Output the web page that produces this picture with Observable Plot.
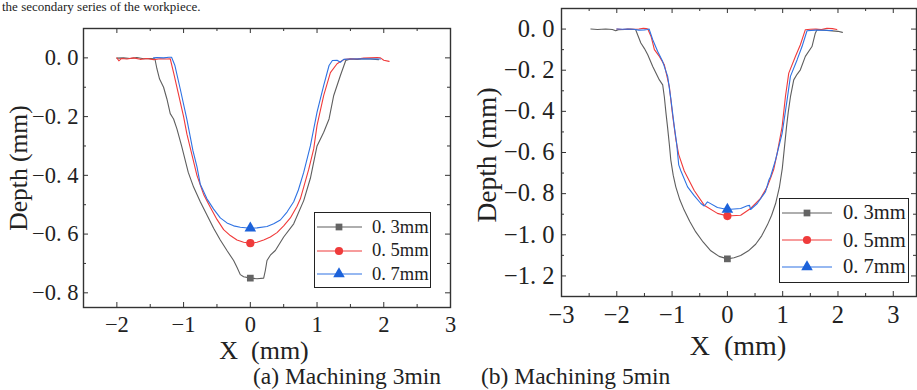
<!DOCTYPE html>
<html><head><meta charset="utf-8">
<script src="https://cdn.jsdelivr.net/npm/d3@7"></script>
<script src="https://cdn.jsdelivr.net/npm/@observablehq/plot@0.6"></script>
<style>
body{margin:0;background:#fff;}
#root{position:relative;width:917px;height:390px;overflow:hidden;font-family:"Liberation Serif","DejaVu Serif",serif;color:#222;background:#fff;}
.abs{position:absolute;white-space:pre;line-height:1;}
.plot{position:absolute;top:0;}
</style></head><body><div id="root"></div>
<script>
// ---------- data ----------
const seriesNames = ["0. 3mm", "0. 5mm", "0. 7mm"];
const markerX = [0, 0, 0];

// (a) Machining 3min
const a03 = [[-2.0,-0.001],[-1.9,0.0],[-1.8,-0.002],[-1.7,0.001],[-1.6,-0.003],[-1.5,-0.002],[-1.43,-0.003],[-1.40,-0.037],[-1.36,-0.072],[-1.30,-0.10],[-1.25,-0.14],[-1.20,-0.19],[-1.15,-0.208],[-1.10,-0.242],[-1.03,-0.30],[-0.93,-0.39],[-0.85,-0.44],[-0.75,-0.49],[-0.65,-0.535],[-0.55,-0.58],[-0.45,-0.62],[-0.35,-0.656],[-0.25,-0.69],[-0.2,-0.713],[-0.15,-0.738],[-0.1,-0.745],[0,-0.75],[0.1,-0.752],[0.2,-0.75],[0.225,-0.724],[0.25,-0.69],[0.3,-0.672],[0.375,-0.656],[0.5,-0.61],[0.65,-0.565],[0.8,-0.486],[0.9,-0.41],[1.0,-0.30],[1.1,-0.253],[1.18,-0.208],[1.25,-0.128],[1.35,-0.06],[1.43,-0.009],[1.5,-0.004],[1.6,-0.005],[1.7,-0.003],[1.8,-0.004],[1.92,-0.006]];
const a05 = [[-2.0,0.0],[-1.97,-0.01],[-1.93,-0.002],[-1.85,-0.004],[-1.75,0.0],[-1.65,-0.005],[-1.55,-0.002],[-1.45,-0.006],[-1.35,-0.003],[-1.25,-0.004],[-1.2,-0.003],[-1.15,-0.05],[-1.08,-0.12],[-1.0,-0.2],[-0.95,-0.26],[-0.89,-0.316],[-0.8,-0.40],[-0.7,-0.465],[-0.6,-0.509],[-0.5,-0.55],[-0.4,-0.585],[-0.3,-0.605],[-0.2,-0.62],[-0.1,-0.628],[0,-0.631],[0.1,-0.628],[0.2,-0.62],[0.3,-0.61],[0.4,-0.595],[0.5,-0.572],[0.6,-0.545],[0.7,-0.505],[0.75,-0.48],[0.8,-0.44],[0.875,-0.38],[0.95,-0.31],[1.0,-0.23],[1.1,-0.128],[1.2,-0.05],[1.3,-0.02],[1.4,-0.006],[1.5,-0.003],[1.6,-0.004],[1.7,-0.001],[1.8,0.0],[1.9,0.001],[1.95,0.0],[2.0,-0.008],[2.08,-0.012]];
const a07 = [[-1.45,0.0],[-1.4,0.001],[-1.3,0.0],[-1.22,0.002],[-1.18,0.002],[-1.13,-0.026],[-1.05,-0.106],[-0.95,-0.21],[-0.86,-0.316],[-0.8,-0.37],[-0.75,-0.43],[-0.65,-0.48],[-0.55,-0.515],[-0.45,-0.545],[-0.35,-0.562],[-0.25,-0.572],[-0.15,-0.577],[0,-0.58],[0.1,-0.579],[0.25,-0.574],[0.35,-0.565],[0.45,-0.552],[0.55,-0.525],[0.65,-0.49],[0.72,-0.45],[0.8,-0.39],[0.9,-0.30],[1.0,-0.185],[1.1,-0.094],[1.18,-0.026],[1.23,-0.009],[1.3,-0.008],[1.35,-0.015],[1.4,-0.005],[1.5,-0.004],[1.7,-0.003],[1.95,-0.004]];
const aMarkerY = [-0.75, -0.631, -0.58];
const aXTicks = [-2, -1, 0, 1, 2, 3];
const aXMinor = [-2.5, -1.5, -0.5, 0.5, 1.5, 2.5];
const aYTicks = [0, -0.2, -0.4, -0.6, -0.8];
const aYMinor = [0.1, -0.1, -0.3, -0.5, -0.7];
const aXDomain = [-2.5, 3];
const aYDomain = [-0.85, 0.1];

// (b) Machining 5min
const b03 = [[-2.47,0.0],[-2.35,-0.002],[-2.2,0.0],[-2.08,-0.002],[-2.02,-0.008],[-1.97,-0.003],[-1.85,-0.002],[-1.75,-0.001],[-1.66,-0.002],[-1.62,-0.03],[-1.565,-0.068],[-1.5,-0.095],[-1.44,-0.125],[-1.35,-0.182],[-1.23,-0.247],[-1.17,-0.271],[-1.14,-0.33],[-1.11,-0.41],[-1.083,-0.474],[-1.05,-0.56],[-1.023,-0.637],[-0.98,-0.71],[-0.933,-0.767],[-0.86,-0.83],[-0.782,-0.88],[-0.68,-0.935],[-0.572,-0.986],[-0.44,-1.035],[-0.30,-1.078],[-0.15,-1.105],[0,-1.117],[0.12,-1.112],[0.24,-1.101],[0.38,-1.078],[0.511,-1.046],[0.62,-1.005],[0.722,-0.953],[0.80,-0.905],[0.872,-0.848],[0.94,-0.77],[0.993,-0.677],[1.03,-0.58],[1.07,-0.474],[1.1,-0.405],[1.14,-0.33],[1.2,-0.247],[1.26,-0.22],[1.32,-0.198],[1.41,-0.133],[1.53,-0.085],[1.59,-0.02],[1.62,-0.003],[1.75,-0.005],[1.9,-0.009],[2.0,-0.011],[2.08,-0.016]];
const b05 = [[-2.0,0.0],[-1.9,-0.002],[-1.8,0.0],[-1.7,-0.001],[-1.6,0.0],[-1.52,0.004],[-1.47,0.003],[-1.44,0.0],[-1.38,-0.036],[-1.32,-0.10],[-1.23,-0.133],[-1.14,-0.174],[-1.05,-0.28],[-0.99,-0.42],[-0.93,-0.54],[-0.88,-0.61],[-0.78,-0.69],[-0.6,-0.785],[-0.42,-0.856],[-0.18,-0.896],[0,-0.909],[0.24,-0.905],[0.42,-0.872],[0.6,-0.823],[0.72,-0.767],[0.78,-0.726],[0.84,-0.68],[0.9,-0.604],[0.99,-0.474],[1.05,-0.328],[1.11,-0.214],[1.23,-0.133],[1.32,-0.076],[1.41,-0.003],[1.5,-0.001],[1.6,0.0],[1.7,-0.002],[1.8,0.004],[1.9,0.002],[1.98,-0.002]];
const b07 = [[-2.0,0.0],[-1.9,-0.001],[-1.8,0.0],[-1.7,-0.001],[-1.6,-0.005],[-1.5,-0.004],[-1.45,-0.002],[-1.415,0.0],[-1.35,-0.052],[-1.26,-0.109],[-1.17,-0.158],[-1.08,-0.23],[-1.02,-0.344],[-0.96,-0.474],[-0.92,-0.55],[-0.88,-0.66],[-0.84,-0.69],[-0.72,-0.767],[-0.6,-0.81],[-0.48,-0.848],[-0.42,-0.86],[-0.36,-0.84],[-0.18,-0.867],[0,-0.877],[0.24,-0.872],[0.36,-0.859],[0.4,-0.857],[0.42,-0.877],[0.54,-0.848],[0.69,-0.79],[0.75,-0.734],[0.78,-0.718],[0.87,-0.637],[0.99,-0.507],[1.08,-0.344],[1.14,-0.23],[1.26,-0.15],[1.35,-0.085],[1.44,-0.008],[1.6,-0.005],[1.75,-0.006],[1.9,-0.007]];
const bMarkerY = [-1.117, -0.909, -0.877];
const bXTicks = [-3, -2, -1, 0, 1, 2, 3];
const bXMinor = [-2.5, -1.5, -0.5, 0.5, 1.5, 2.5];
const bYTicks = [0, -0.2, -0.4, -0.6, -0.8, -1.0, -1.2];
const bYMinor = [-0.1, -0.3, -0.5, -0.7, -0.9, -1.1];
const bXDomain = [-3, 3.42];
const bYDomain = [-1.3, 0.1];

const captions = ["(a) Machining 3min", "(b) Machining 5min"];
const headText = "the secondary series of the workpiece.";
const xTitle = "X  (mm)";
const yTitle = "Depth (mm)";

// ---------- style ----------
const lineColors = ["#5e5e5e", "#f03a3a", "#2e72e3"];
const markColors = ["#646464", "#ef3b3b", "#1c62da"];
const symbols = ["square", "circle", "triangle"];
const markR = [3.8, 4.1, 4.3];
const axisColor = "#333";

const xFmt = d => (d < 0 ? "\u2212" : "") + Math.abs(d);
const yFmt = d => (d < -1e-9 ? "\u2212" : "") + Math.abs(d).toFixed(1).replace(".", ". ");

function panel(o) {
  const fw = o.width - o.ml - o.mr, fh = o.height - o.mt - o.mb;
  const series = o.series;
  const marks = [];
  series.forEach((s, i) => {
    marks.push(Plot.line(s, {x: d => d[0], y: d => d[1], stroke: lineColors[i], strokeWidth: 1.1}));
  });
  series.forEach((s, i) => {
    marks.push(Plot.dot([i], {x: j => markerX[j], y: j => o.markY[j], symbol: symbols[i], fill: markColors[i], stroke: "none", r: markR[i]}));
  });
  const tk = "#333";
  marks.push(
    Plot.tickX(o.xTicks, {x: d => d, insetTop: fh - 5, stroke: tk}),
    Plot.tickX(o.xTicks, {x: d => d, insetBottom: fh - 5, stroke: tk}),
    Plot.tickX(o.xMinor, {x: d => d, insetTop: fh - 3, stroke: tk}),
    Plot.tickX(o.xMinor, {x: d => d, insetBottom: fh - 3, stroke: tk}),
    Plot.tickY(o.yTicks, {y: d => d, insetRight: fw - 5, stroke: tk}),
    Plot.tickY(o.yTicks, {y: d => d, insetLeft: fw - 5, stroke: tk}),
    Plot.tickY(o.yMinor, {y: d => d, insetRight: fw - 3, stroke: tk}),
    Plot.tickY(o.yMinor, {y: d => d, insetLeft: fw - 3, stroke: tk}),
    Plot.axisX({ticks: o.xTicks, anchor: "bottom", tickSize: 0, tickPadding: o.xPad, tickFormat: xFmt, label: null, fill: "#222"}),
    Plot.axisY({ticks: o.yTicks, anchor: "left", tickSize: 0, tickPadding: o.yPad, tickFormat: yFmt, label: null, fill: "#222"}),
    Plot.frame({stroke: axisColor, strokeWidth: 1.4})
  );
  return Plot.plot({
    width: o.width, height: o.height,
    marginLeft: o.ml, marginRight: o.mr, marginTop: o.mt, marginBottom: o.mb,
    x: {domain: o.xDomain}, y: {domain: o.yDomain},
    style: {fontFamily: '"Liberation Serif", serif', fontSize: o.fs + "px", background: "transparent", overflow: "visible"},
    marks
  });
}

const root = document.getElementById("root");

const pa = panel({series: [a03, a05, a07], markY: aMarkerY, xTicks: aXTicks, xMinor: aXMinor, yTicks: aYTicks, yMinor: aYMinor,
  xDomain: aXDomain, yDomain: aYDomain, width: 460, height: 365, ml: 83, mr: 10, mt: 28, mb: 58, fs: 22.5, xPad: 9, yPad: 5});
pa.classList.add("plot"); pa.style.left = "0px";
root.appendChild(pa);

const pb = panel({series: [b03, b05, b07], markY: bMarkerY, xTicks: bXTicks, xMinor: bXMinor, yTicks: bYTicks, yMinor: bYMinor,
  xDomain: bXDomain, yDomain: bYDomain, width: 457, height: 365, ml: 101, mr: 1, mt: 8, mb: 69, fs: 24.5, xPad: 9, yPad: 7});
pb.classList.add("plot"); pb.style.left = "460px";
root.appendChild(pb);

// ---------- text ----------
function text(str, {x, baseline, fs, anchor = "start", rotate = false, cy}) {
  const d = document.createElement("div");
  d.className = "abs";
  d.textContent = str;
  d.style.fontSize = fs + "px";
  if (rotate) {
    d.style.left = x + "px";
    d.style.top = cy + "px";
    d.style.transform = "translate(-50%,-50%) rotate(-90deg)";
  } else {
    d.style.left = x + "px";
    d.style.top = (baseline - 0.8375 * fs) + "px";
    if (anchor === "middle") d.style.transform = "translateX(-50%)";
  }
  root.appendChild(d);
  return d;
}
text(headText, {x: 2, baseline: 11, fs: 13});
text(yTitle, {x: 19, cy: 168, fs: 25.5, rotate: true});
text(yTitle, {x: 487, cy: 155, fs: 27.5, rotate: true});
text(xTitle, {x: 264, baseline: 360, fs: 26, anchor: "middle"});
text(xTitle, {x: 738, baseline: 355, fs: 28, anchor: "middle"});
text(captions[0], {x: 253, baseline: 385, fs: 23.5});
text(captions[1], {x: 481, baseline: 385, fs: 23.5});

// ---------- legends ----------
const NS = "http://www.w3.org/2000/svg";
function legend({left, top, w, h, rows, lx0, lx1, mx, tx, fs}) {
  const box = document.createElement("div");
  box.style.cssText = `position:absolute;left:${left}px;top:${top}px;width:${w}px;height:${h}px;border:1.5px solid #222;box-sizing:border-box;background:#fff;`;
  root.appendChild(box);
  rows.forEach((ry, i) => {
    const svg = document.createElementNS(NS, "svg");
    svg.setAttribute("width", 60); svg.setAttribute("height", 14);
    svg.style.cssText = `position:absolute;left:${left}px;top:${top + ry - 7}px;overflow:visible;`;
    const ln = document.createElementNS(NS, "line");
    ln.setAttribute("x1", lx0); ln.setAttribute("x2", lx1); ln.setAttribute("y1", 7); ln.setAttribute("y2", 7);
    ln.setAttribute("stroke", lineColors[i]); ln.setAttribute("stroke-width", 1.2);
    svg.appendChild(ln);
    const p = document.createElementNS(NS, "path");
    const sym = [d3.symbolSquare, d3.symbolCircle, d3.symbolTriangle][i];
    p.setAttribute("d", d3.symbol(sym, Math.PI * markR[i] * markR[i])());
    p.setAttribute("transform", `translate(${mx},7)`);
    p.setAttribute("fill", markColors[i]);
    svg.appendChild(p);
    root.appendChild(svg);
    const t = document.createElement("div");
    t.className = "abs"; t.textContent = seriesNames[i];
    t.style.fontSize = fs + "px";
    t.style.left = (left + tx) + "px";
    t.style.top = (top + ry + 0.33 * fs - 0.8375 * fs) + "px";
    root.appendChild(t);
  });
}
legend({left: 314, top: 212, w: 117, h: 76, rows: [15, 38.5, 62], lx0: 3, lx1: 48, mx: 25, tx: 58, fs: 18.5});
legend({left: 779, top: 198, w: 130, h: 85, rows: [14.7, 42, 68.7], lx0: 3, lx1: 53, mx: 28, tx: 64, fs: 20.5});
</script>
</body></html>
